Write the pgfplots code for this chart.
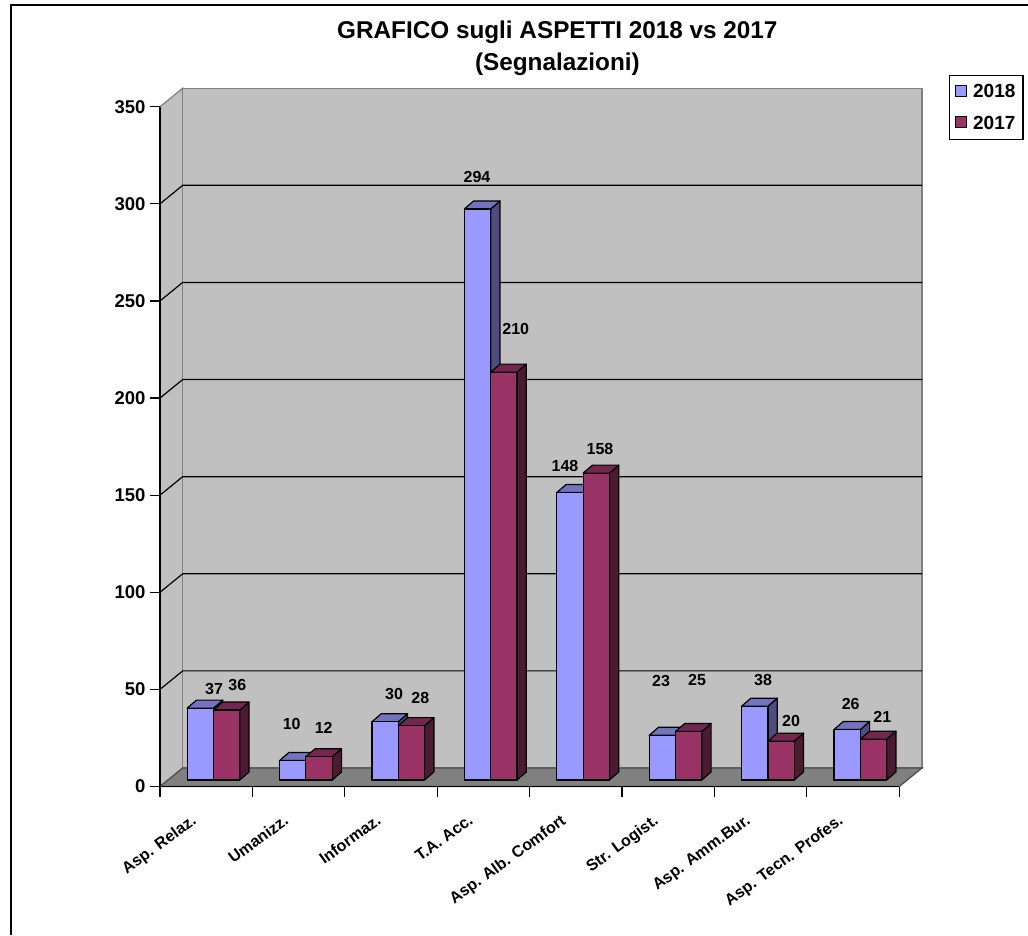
\documentclass[border=0pt]{standalone}
\usepackage{fontspec}
\setmainfont{Liberation Sans}
\usepackage{pgfplots}
\pgfplotsset{compat=1.18}

\definecolor{cA}{HTML}{9999FF}
\definecolor{cAside}{HTML}{4D4D80}
\definecolor{cAtop}{HTML}{7373BF}
\definecolor{cB}{HTML}{993366}
\definecolor{cBside}{HTML}{4D1A33}
\definecolor{cBtop}{HTML}{732650}
\definecolor{wall}{HTML}{C0C0C0}
\definecolor{floorc}{HTML}{808080}

\pgfplotsset{sq/.style={legend image code/.code={\draw[draw=black,line width=1pt,fill=#1] (0pt,-10.5pt) rectangle (11pt,0.5pt); \path (15pt,0pt);}}}

% side and top face of one bar: centre, value, shift, side colour, top colour
\newcommand{\faces}[5]{%
  \pgfmathsetmacro\xl{#1+#3-0.1425}%
  \pgfmathsetmacro\xr{#1+#3+0.1425}%
  \pgfmathsetmacro\xdl{\xl+0.1006}%
  \pgfmathsetmacro\xdr{\xr+0.1006}%
  \pgfmathsetmacro\yb{3.35}%
  \pgfmathsetmacro\ybb{3.35+4.12}%
  \pgfmathsetmacro\yt{#2+3.35}%
  \pgfmathsetmacro\ytt{#2+3.35+4.12}%
  \edef\tmp{\noexpand\addplot[forget plot,draw=black,line width=1.2pt,line join=round,fill=#4]
    coordinates {(\xr,\yb) (\xdr,\ybb) (\xdr,\ytt) (\xr,\yt)} -- cycle;
    \noexpand\addplot[forget plot,draw=black,line width=1.2pt,line join=round,fill=#5]
    coordinates {(\xl,\yt) (\xdl,\ytt) (\xdr,\ytt) (\xr,\yt)} -- cycle;}\tmp
}
% gridline on the left wall and the back wall
\newcommand{\gridl}[1]{%
  \pgfmathsetmacro\yy{#1+9.53}%
  \edef\tmp{\noexpand\addplot[forget plot,black,line width=1.2pt]
    coordinates {(0,#1) (0.2457,\yy) (8.2457,\yy)};}\tmp
}

\begin{document}
\begin{tikzpicture}
\useasboundingbox (0pt,0pt) rectangle (1028pt,-935pt);
\draw[black,line width=2pt] (11pt,-935pt) -- (11pt,-4.5pt) -- (1028pt,-4.5pt);
\begin{axis}[
    at={(160pt,-786.5pt)},
    anchor=south west,
    scale only axis,
    width=739.3pt,
    height=679.8pt,
    xmin=0, xmax=8,
    ymin=0, ymax=350,
    clip=false,
    axis on top,
    axis lines*=left,
    axis line style={black,line width=1.2pt},
    xtick={0.5,1.5,2.5,3.5,4.5,5.5,6.5,7.5},
    xticklabels={Asp. Relaz.,Umanizz.,Informaz.,T.A. Acc.,Asp. Alb. Comfort,Str. Logist.,Asp. Amm.Bur.,Asp. Tecn. Profes.},
    minor xtick={0,1,2,3,4,5,6,7,8},
    major x tick style={draw=none},
    minor x tick style={black,line width=1.2pt},
    minor tick length=10pt,
    ytick={0,50,100,150,200,250,300,350},
    y tick style={black,line width=1.2pt},
    major tick length=10pt,
    tick align=outside,
    /pgf/number format/assume math mode=true,
    yticklabel style={font=\bfseries\fontsize{18.5}{18.5}\selectfont,xshift=-1pt},
    xticklabel style={font=\bfseries\fontsize{16}{16}\selectfont,rotate=36,anchor=north east,xshift=-19.4pt,yshift=-1pt},
    title={GRAFICO sugli ASPETTI 2018 vs 2017\\(Segnalazioni)},
    title style={font=\bfseries\fontsize{24.3}{32}\selectfont,align=center,at={(0.5375,1)},anchor=south,yshift=22pt},
    legend style={at={(1.0672,1.0466)},anchor=north west,draw=black,line width=1.2pt,
      font=\bfseries\fontsize{19}{19}\selectfont,inner xsep=5.5pt,inner ysep=7pt,row sep=12.5pt,cells={anchor=west}},
]
% walls and floor
\addplot[forget plot,fill=wall,draw=floorc,line width=1.2pt] coordinates {(0,0) (0.2457,9.53) (0.2457,359.53) (0,350)} -- cycle;
\addplot[forget plot,fill=wall,draw=floorc,line width=1.2pt] coordinates {(0.2457,9.53) (8.2457,9.53) (8.2457,359.53) (0.2457,359.53)} -- cycle;
\addplot[forget plot,fill=floorc,draw=black!70,line width=1.2pt] coordinates {(0,0) (8,0) (8.2457,9.53) (0.2457,9.53)} -- cycle;
\gridl{50}\gridl{100}\gridl{150}\gridl{200}\gridl{250}\gridl{300}

% 2018
\pgfplotsinvokeforeach{0.5/37,1.5/10,2.5/30,3.5/294,4.5/148,5.5/23,6.5/38,7.5/26}{
  \pgfplotsforeachungrouped \p/\q in {#1}{\edef\tmpa{\noexpand\faces{\p}{\q}{-0.064}{cAside}{cAtop}}\tmpa}
}
\addplot[ybar,sq=cA,bar width=26.3pt,bar shift=-5.9pt,yshift=6.5pt,fill=cA,draw=black,line width=1.2pt]
  coordinates {(0.5,37)(1.5,10)(2.5,30)(3.5,294)(4.5,148)(5.5,23)(6.5,38)(7.5,26)};
\addlegendentry{2018}

% 2017
\pgfplotsinvokeforeach{0.5/36,1.5/12,2.5/28,3.5/210,4.5/158,5.5/25,6.5/20,7.5/21}{
  \pgfplotsforeachungrouped \p/\q in {#1}{\edef\tmpa{\noexpand\faces{\p}{\q}{0.2208}{cBside}{cBtop}}\tmpa}
}
\addplot[ybar,sq=cB,bar width=26.3pt,bar shift=20.4pt,yshift=6.5pt,fill=cB,draw=black,line width=1.2pt]
  coordinates {(0.5,36)(1.5,12)(2.5,28)(3.5,210)(4.5,158)(5.5,25)(6.5,20)(7.5,21)};
\addlegendentry{2017}
\end{axis}
% value labels, where the original has them
\foreach \lx/\ly/\lt in {214/689/37,237.3/685/36,291.7/724.3/10,323.7/728.3/12,394/694.3/30,420.3/698.3/28,
    477/177.3/294,515.7/329.3/210,565/466/148,600/449/158,661/681/23,697/680/25,763/680/38,791/720.7/20,850.7/704.3/26,882.3/717.3/21}{
  \node[font=\bfseries\fontsize{16}{16}\selectfont,inner sep=0pt] at (\lx pt,-\ly pt) {\lt};
}
\end{tikzpicture}
\end{document}
